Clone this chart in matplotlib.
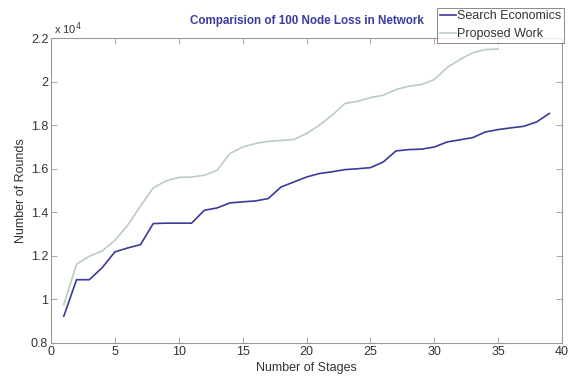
import numpy as np
import matplotlib
matplotlib.use('Agg')
import matplotlib.pyplot as plt
from matplotlib.ticker import FuncFormatter

plt.rcParams['font.family'] = ['Liberation Sans', 'DejaVu Sans']

stages_se = np.arange(1, 40)
search_economics = [9220, 10900, 10900, 11450, 12180, 12360, 12510, 13480, 13500, 13500,
                    13500, 14090, 14200, 14430, 14480, 14520, 14630, 15160, 15390, 15620,
                    15780, 15860, 15960, 16000, 16050, 16310, 16820, 16880, 16900, 17000,
                    17230, 17330, 17430, 17690, 17800, 17880, 17950, 18150, 18540]

stages_pw = np.arange(1, 36)
proposed_work = [9750, 11610, 11980, 12220, 12710, 13400, 14280, 15120, 15440, 15600,
                 15620, 15700, 15930, 16700, 17000, 17160, 17260, 17300, 17340, 17620,
                 18000, 18460, 19000, 19100, 19270, 19380, 19640, 19790, 19870, 20100,
                 20650, 21020, 21330, 21480, 21500]

fig, ax = plt.subplots(figsize=(5.73, 3.78), dpi=100)
fig.subplots_adjust(left=0.089, right=0.981, bottom=0.093, top=0.899)

ax.plot(stages_se, search_economics, color='#3a3a9a', linewidth=1.2, label='Search Economics')
ax.plot(stages_pw, proposed_work, color='#b9cdc2', linewidth=1.2, label='Proposed Work')

ax.set_xlim(0, 40)
ax.set_ylim(8000, 22000)
ax.set_xticks(np.arange(0, 41, 5))
ax.set_yticks(np.arange(8000, 22001, 2000))
ax.yaxis.set_major_formatter(FuncFormatter(lambda v, p: '%g' % (v / 1e4)))
ax.tick_params(direction='in', top=True, right=True, length=4, width=0.6,
               colors='#9a9a9a', labelcolor='#333333', labelsize=9, pad=2)
for s in ax.spines.values():
    s.set_color('#9a9a9a')
    s.set_linewidth(0.8)

ax.text(0.0, 1.005, ' x 10$^4$', transform=ax.transAxes, fontsize=8,
        color='#333333', ha='left', va='bottom')

ax.set_xlabel('Number of Stages', fontsize=9, color='#333333', labelpad=3)
ax.set_ylabel('Number of Rounds', fontsize=9, color='#333333', labelpad=3)
ax.set_title('Comparision of 100 Node Loss in Network', fontsize=8.4, color='#3b3ba0',
             fontweight='bold', pad=10)

leg = ax.legend(loc='upper right', bbox_to_anchor=(1.004, 1.1), borderaxespad=0,
                fontsize=9, frameon=True, fancybox=False, handlelength=1.3,
                handletextpad=0.1, borderpad=0.2, labelspacing=0.5)
leg.get_frame().set_edgecolor('#555555')
leg.get_frame().set_linewidth(0.6)
for t in leg.get_texts():
    t.set_color('#333333')

fig.savefig('out.png', dpi=100)
plt.close(fig)
